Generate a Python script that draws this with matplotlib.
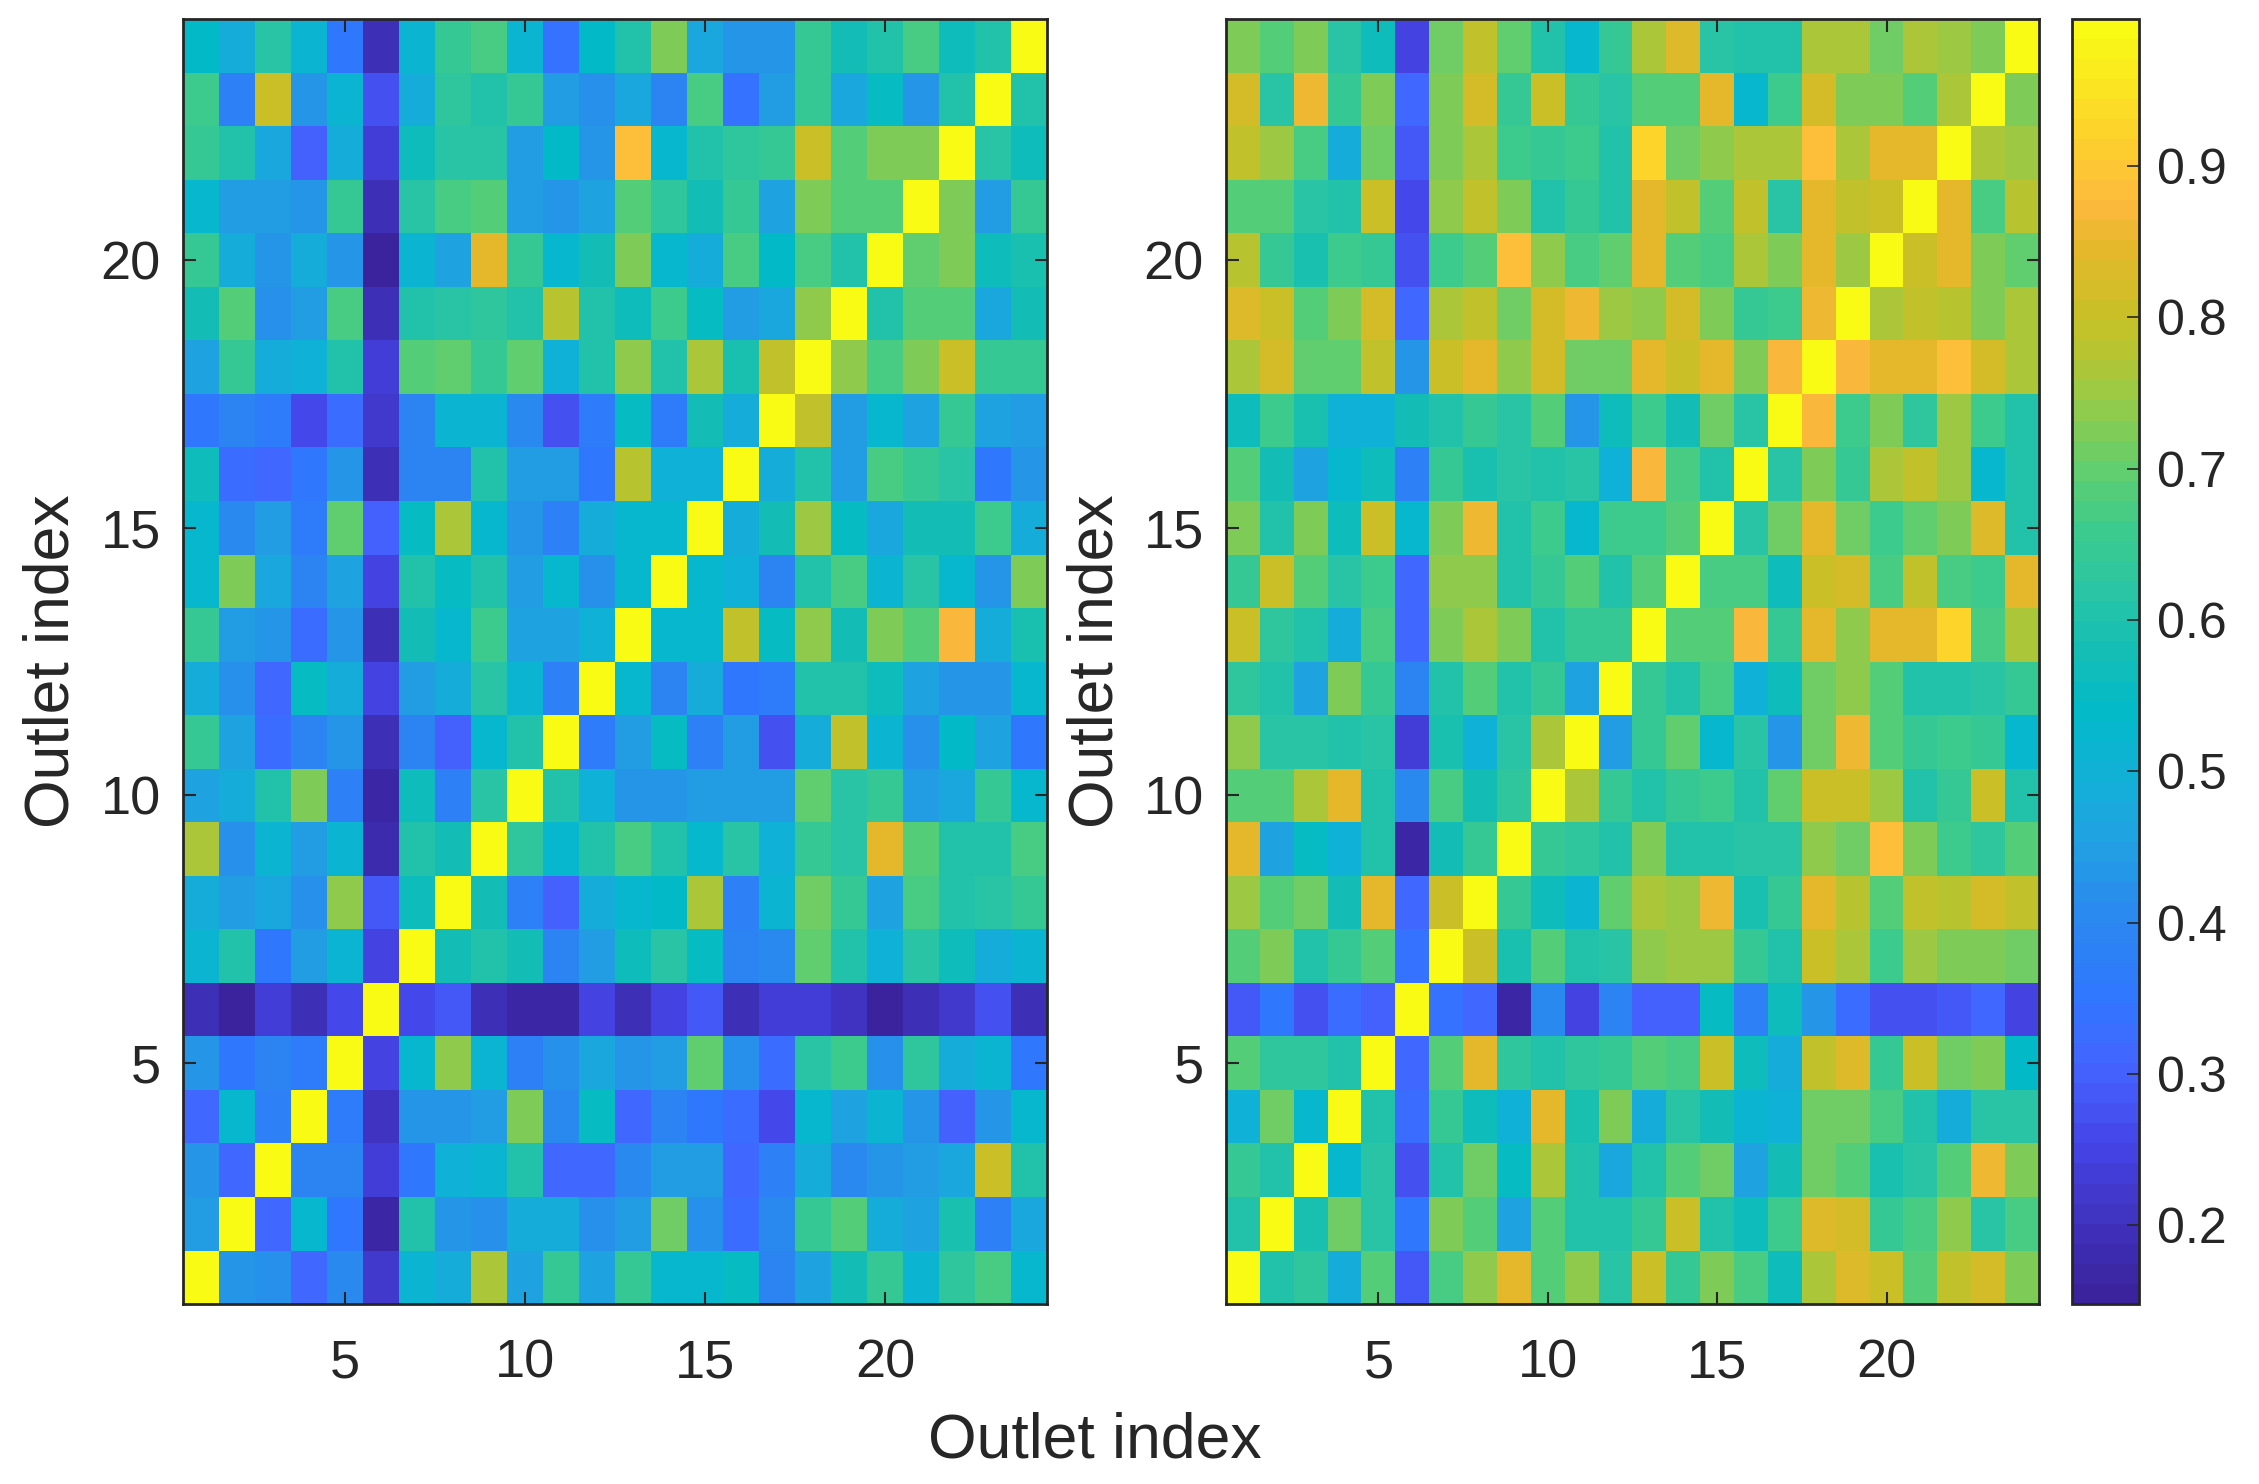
# plot.py
import matplotlib
matplotlib.use('Agg')
import matplotlib.pyplot as plt
from matplotlib.colors import LinearSegmentedColormap
import numpy as np

plt.rcParams['font.family'] = ['Liberation Sans', 'DejaVu Sans']

# rows listed top to bottom (outlet 24 down to outlet 1)
left_values = [
    [.54, .48, .62, .51, .36, .19, .51, .64, .67, .51, .34, .54, .60, .73, .47, .43, .43, .65, .58, .60, .67, .56, .61, 1],
    [.66, .38, .80, .43, .51, .27, .48, .63, .61, .64, .45, .42, .47, .39, .67, .34, .45, .64, .47, .55, .43, .61, 1, .60],
    [.64, .61, .47, .30, .49, .23, .57, .62, .62, .45, .54, .43, .88, .53, .60, .63, .64, .80, .69, .73, .73, 1, .62, .56],
    [.52, .45, .44, .43, .64, .19, .62, .67, .69, .44, .43, .46, .68, .63, .58, .64, .46, .73, .69, .69, 1, .73, .44, .65],
    [.65, .49, .43, .49, .43, .16, .51, .46, .85, .64, .52, .58, .72, .52, .48, .67, .54, .67, .60, 1, .70, .73, .56, .59],
    [.58, .68, .42, .45, .67, .19, .60, .62, .63, .60, .78, .60, .57, .66, .55, .44, .47, .74, 1, .60, .68, .68, .47, .58],
    [.46, .64, .49, .50, .61, .24, .68, .70, .65, .70, .50, .61, .74, .61, .76, .59, .79, 1, .74, .67, .72, .80, .64, .65],
    [.36, .40, .37, .26, .33, .22, .40, .51, .51, .41, .27, .37, .55, .37, .58, .49, 1, .79, .45, .53, .46, .64, .46, .44],
    [.56, .33, .31, .35, .43, .20, .40, .39, .61, .45, .45, .36, .78, .50, .50, 1, .49, .60, .45, .67, .64, .62, .35, .43],
    [.52, .41, .45, .37, .70, .30, .55, .77, .52, .43, .38, .48, .53, .53, 1, .49, .58, .75, .55, .47, .58, .58, .66, .48],
    [.52, .72, .47, .40, .46, .25, .61, .55, .61, .44, .53, .42, .52, 1, .53, .50, .39, .61, .67, .51, .62, .52, .43, .73],
    [.65, .45, .43, .33, .43, .20, .58, .53, .66, .46, .46, .50, 1, .52, .52, .79, .55, .74, .58, .73, .69, .87, .48, .59],
    [.48, .42, .32, .55, .48, .25, .45, .49, .62, .51, .38, 1, .52, .40, .48, .36, .37, .60, .61, .57, .46, .43, .43, .53],
    [.65, .46, .33, .40, .43, .19, .39, .30, .52, .60, 1, .37, .44, .55, .38, .44, .28, .49, .79, .51, .42, .54, .46, .36],
    [.46, .49, .60, .73, .38, .17, .56, .38, .62, 1, .60, .50, .43, .43, .45, .45, .44, .70, .62, .65, .44, .47, .64, .52],
    [.76, .42, .51, .44, .51, .18, .60, .58, 1, .63, .52, .61, .67, .60, .53, .62, .50, .65, .62, .84, .69, .61, .60, .67],
    [.49, .44, .47, .42, .74, .29, .57, 1, .58, .38, .30, .48, .52, .54, .77, .38, .51, .71, .64, .46, .67, .60, .62, .64],
    [.51, .61, .36, .44, .51, .25, 1, .58, .60, .58, .40, .44, .56, .62, .55, .40, .41, .70, .60, .50, .62, .57, .48, .51],
    [.20, .16, .24, .19, .26, 1, .26, .29, .19, .17, .17, .25, .19, .25, .29, .20, .24, .24, .21, .16, .19, .22, .27, .19],
    [.43, .36, .40, .37, 1, .25, .52, .74, .51, .38, .42, .47, .43, .44, .70, .42, .33, .62, .66, .42, .63, .49, .51, .35],
    [.31, .53, .38, 1, .37, .21, .43, .43, .45, .73, .41, .55, .32, .39, .36, .33, .26, .52, .46, .51, .43, .30, .43, .52],
    [.43, .31, 1, .39, .39, .24, .35, .50, .51, .60, .31, .31, .41, .44, .44, .31, .38, .48, .41, .43, .45, .47, .81, .60],
    [.44, 1, .31, .53, .35, .17, .61, .43, .42, .49, .49, .42, .45, .71, .42, .33, .41, .64, .68, .48, .46, .59, .38, .47],
    [1, .43, .42, .31, .41, .22, .51, .48, .76, .46, .64, .46, .64, .52, .52, .55, .39, .46, .58, .65, .51, .63, .67, .52],
]

right_values = [
    [.72, .68, .73, .62, .56, .25, .71, .79, .70, .61, .52, .65, .77, .83, .62, .61, .61, .76, .76, .71, .77, .75, .73, 1],
    [.82, .62, .86, .64, .73, .31, .72, .82, .64, .81, .65, .62, .68, .68, .84, .52, .66, .82, .73, .73, .68, .77, 1, .72],
    [.79, .75, .67, .48, .71, .29, .72, .77, .66, .64, .66, .60, .92, .71, .74, .76, .76, .88, .77, .85, .84, 1, .77, .75],
    [.69, .69, .62, .61, .80, .26, .74, .79, .72, .61, .64, .60, .84, .79, .68, .79, .62, .85, .79, .81, 1, .84, .67, .78],
    [.78, .64, .59, .66, .64, .27, .66, .69, .88, .74, .67, .70, .85, .69, .67, .76, .72, .85, .75, 1, .81, .85, .73, .70],
    [.83, .81, .69, .72, .82, .31, .76, .79, .71, .82, .86, .75, .74, .82, .73, .64, .66, .86, 1, .76, .79, .78, .72, .76],
    [.76, .82, .70, .70, .79, .43, .81, .84, .74, .82, .71, .71, .84, .81, .85, .73, .87, 1, .87, .85, .85, .88, .82, .76],
    [.57, .66, .59, .50, .50, .58, .61, .64, .62, .69, .43, .57, .66, .58, .71, .62, 1, .87, .66, .72, .63, .75, .66, .60],
    [.68, .58, .46, .52, .57, .38, .65, .59, .62, .60, .62, .50, .87, .67, .61, 1, .62, .72, .65, .76, .79, .75, .52, .61],
    [.73, .60, .72, .57, .81, .52, .73, .86, .60, .66, .53, .66, .66, .68, 1, .62, .71, .84, .71, .66, .70, .73, .83, .61],
    [.64, .81, .69, .62, .66, .31, .74, .74, .61, .65, .69, .60, .69, 1, .67, .67, .57, .81, .82, .67, .79, .67, .66, .84],
    [.81, .63, .60, .49, .67, .31, .73, .76, .72, .61, .64, .64, 1, .69, .68, .87, .65, .84, .74, .85, .84, .93, .67, .77],
    [.63, .60, .46, .73, .65, .40, .61, .69, .61, .64, .46, 1, .64, .60, .67, .50, .57, .71, .74, .69, .60, .60, .62, .64],
    [.74, .62, .62, .60, .62, .24, .59, .50, .62, .77, 1, .45, .64, .70, .53, .62, .43, .71, .86, .68, .64, .66, .64, .52],
    [.68, .68, .76, .85, .60, .41, .67, .58, .63, 1, .77, .64, .60, .64, .66, .60, .70, .81, .80, .75, .61, .64, .81, .60],
    [.84, .46, .55, .50, .61, .17, .58, .65, 1, .64, .63, .61, .73, .61, .60, .62, .62, .74, .71, .88, .72, .66, .63, .69],
    [.75, .68, .71, .58, .85, .32, .81, 1, .65, .57, .51, .70, .76, .75, .86, .59, .65, .85, .78, .69, .79, .78, .82, .79],
    [.68, .73, .61, .65, .68, .34, 1, .81, .59, .68, .60, .62, .74, .75, .75, .64, .60, .81, .76, .66, .75, .73, .73, .71],
    [.29, .35, .28, .33, .30, 1, .34, .31, .17, .41, .25, .40, .30, .30, .55, .38, .56, .43, .33, .27, .27, .29, .32, .25],
    [.68, .63, .63, .60, 1, .31, .69, .85, .63, .61, .63, .65, .68, .67, .81, .57, .49, .79, .83, .65, .81, .71, .73, .54],
    [.50, .71, .52, 1, .60, .33, .65, .57, .50, .85, .59, .73, .49, .62, .58, .51, .50, .71, .71, .67, .60, .49, .62, .62],
    [.64, .60, 1, .53, .62, .28, .60, .71, .55, .76, .61, .47, .61, .68, .71, .46, .58, .71, .69, .59, .62, .68, .86, .73],
    [.60, 1, .59, .71, .62, .35, .73, .68, .46, .68, .61, .60, .65, .81, .60, .57, .66, .83, .82, .65, .67, .74, .62, .67],
    [1, .60, .63, .49, .68, .29, .67, .74, .84, .68, .74, .62, .80, .65, .73, .67, .56, .76, .83, .80, .69, .79, .82, .72],
]

outlet_ticks = [5, 10, 15, 20]
colorbar_ticks = [0.2, 0.3, 0.4, 0.5, 0.6, 0.7, 0.8, 0.9]
v_min, v_max = 0.148, 0.997

# parula look, colours picked from the colorbar
cmap_values = [0.148, 0.20, 0.25, 0.30, 0.35, 0.40, 0.45, 0.50, 0.54, 0.58, 0.62, 0.66, 0.70,
               0.74, 0.78, 0.81, 0.85, 0.88, 0.93, 0.997]
cmap_colors = ['#3A239C', '#4033C0', '#4545E8', '#4463FF', '#3078FF', '#2B88F0', '#22A0E3',
               '#10B2D6', '#02BAC8', '#14BEB5', '#2AC5A5', '#3CCB8E', '#60CE70',
               '#8ECB4E', '#B8C530', '#CCBF26', '#E6B82C', '#FDB93E', '#FDD52A', '#F9FB15']
cmap_pos = [(v - v_min) / (v_max - v_min) for v in cmap_values]
parula = LinearSegmentedColormap.from_list('parula_like', list(zip(cmap_pos, cmap_colors)), N=64)

dark = '#262626'
W, H = 2259, 1484


def axes_box(x0, x1, y0, y1):
    return [x0 / W, 1 - y1 / H, (x1 - x0) / W, (y1 - y0) / H]


fig = plt.figure(figsize=(W / 100, H / 100), dpi=100)
ax_left = fig.add_axes(axes_box(183, 1047, 19, 1304))
ax_right = fig.add_axes(axes_box(1226, 2039, 19, 1304))
ax_cbar = fig.add_axes(axes_box(2072, 2139, 19, 1304))

for ax, values, label_x in [(ax_left, left_values, -0.117), (ax_right, right_values, -0.124)]:
    grid = np.array(values)[::-1]
    im = ax.imshow(grid, cmap=parula, vmin=v_min, vmax=v_max, origin='lower', aspect='auto',
                   interpolation='nearest', extent=(0.5, 24.5, 0.5, 24.5))
    ax.set_xticks(outlet_ticks)
    ax.set_yticks(outlet_ticks)
    ax.tick_params(direction='in', top=True, right=True, length=9, width=1.5, color=dark,
                   labelcolor=dark, labelsize=39)
    ax.tick_params(axis='x', pad=25)
    ax.tick_params(axis='y', pad=16)
    ax.set_ylabel('Outlet index', fontsize=45, color=dark)
    ax.yaxis.set_label_coords(label_x, 0.5)
    for spine in ax.spines.values():
        spine.set_linewidth(2)
        spine.set_color(dark)

cbar = fig.colorbar(im, cax=ax_cbar)
cbar.set_ticks(colorbar_ticks)
cbar.ax.tick_params(direction='in', length=9, width=1.2, color=dark, labelcolor=dark,
                    labelsize=36, pad=13)
cbar.outline.set_linewidth(2)
cbar.outline.set_edgecolor(dark)

fig.text(1095 / W, 1 - 1441 / H, 'Outlet index', fontsize=45, color=dark, ha='center', va='center')

fig.savefig('out.png', dpi=100)
